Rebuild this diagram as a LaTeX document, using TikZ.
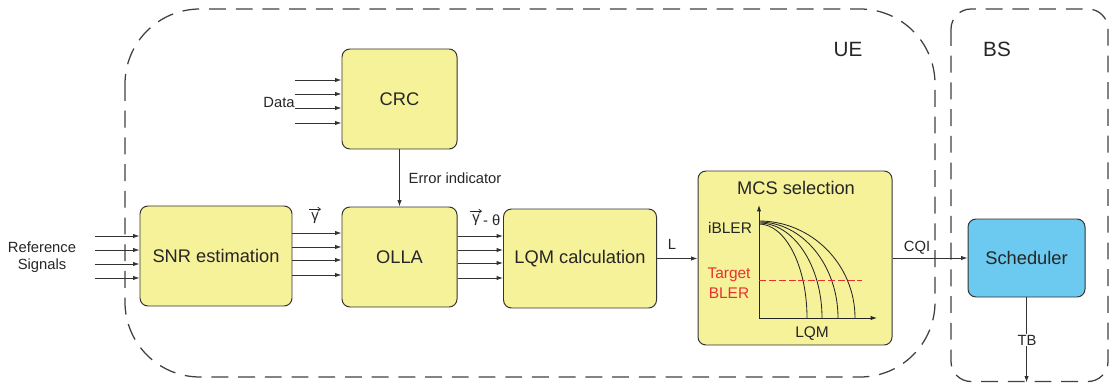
\documentclass[tikz,border=0pt]{standalone}
\usepackage{fontspec}
\setmainfont{Liberation Sans}
\usetikzlibrary{arrows.meta}
\usetikzlibrary{positioning}

\definecolor{boxyellow}{HTML}{F6F29A}
\definecolor{boxblue}{HTML}{6CC9EF}
\definecolor{lineg}{HTML}{333333}
\definecolor{tred}{HTML}{E8312F}

\tikzset{
	blk/.style={draw=lineg, fill=boxyellow, rounded corners=2mm, line width=0.7pt,
		font=\fontsize{13}{15}\selectfont, text=black!85, align=center, inner sep=0pt},
	sig/.style={draw=lineg, line width=0.6pt, -{Latex[length=4.5pt,width=3pt]}},
	vecarr/.style={draw=black!85, line width=0.5pt, -{Straight Barb[length=2pt,width=3pt]}},
	lbl/.style={font=\fontsize{10.5}{12}\selectfont, text=black!85, inner sep=1pt, align=center},
	plbl/.style={font=\fontsize{11}{14}\selectfont, text=black!85, inner sep=0pt, align=center},
	region/.style={draw=black!75, line width=0.9pt, dash pattern=on 12pt off 7pt},
	curve/.style={draw=black!85, line width=0.6pt},
}

\begin{document}
\begin{tikzpicture}[x=0.25mm, y=-0.25mm]
	\useasboundingbox (0,0) rectangle (1112,383);
	% dashed regions
	\draw[region, rounded corners=18.75mm] (125,9) rectangle (935,377);
	\draw[region, rounded corners=5mm] (951,9) rectangle (1108,381.5);
	\node[font=\fontsize{14.7}{16}\selectfont, text=black!85] (ue) at (848,49) {UE};
	\node[font=\fontsize{14.7}{16}\selectfont, text=black!85] (bs) at (997,49) {BS};

	% blocks
	\node[blk, minimum width=28.75mm, minimum height=25mm] (crc) at (399.5,99) {CRC};
	\node[blk, minimum width=38mm, minimum height=25mm] (snr) at (216,256) {SNR estimation};
	\node[blk, minimum width=28.75mm, minimum height=25mm] (olla) at (399.5,257) {OLLA};
	\node[blk, minimum width=38.25mm, minimum height=24.75mm] (lqm) at (580,258.5) {LQM calculation};
	\node[blk, minimum width=48.5mm, minimum height=43.5mm] (mcs) at (795,258) {};
	\node[blk, fill=boxblue, minimum width=29.25mm, minimum height=19.5mm] (sched) at (1026.5,258) {Scheduler};
	\node[font=\fontsize{13}{15}\selectfont, text=black!85, anchor=north] (mcst) at (796,176) {MCS selection};

	% inputs
	\coordinate (refin) at (95,0);
	\coordinate (datain) at (295,0);
	\foreach \y in {236,250,264,278}
		\draw[sig] (refin |- 0,\y) -- (snr.west |- 0,\y);
	\node[lbl] (refs) at (42,257) {Reference\\Signals};
	\foreach \y in {80,94,108,123}
		\draw[sig] (datain |- 0,\y) -- (crc.west |- 0,\y);
	\node[lbl] (data) at (279,102) {Data};

	% connections
	\foreach \y in {233,247,260,275}
		\draw[sig] (snr.east |- 0,\y) -- (olla.west |- 0,\y);
	\node[lbl] (gam) at (315,218) {γ};
	\draw[vecarr] ([xshift=-0.5pt,yshift=1.2pt]gam.north west) -- ([xshift=0.5pt,yshift=1.2pt]gam.north east);
	\foreach \y in {236,250,263,278}
		\draw[sig] (olla.east |- 0,\y) -- (lqm.west |- 0,\y);
	\node[lbl] (gamth) at (476,220) {γ};
	\draw[vecarr] ([xshift=-0.5pt,yshift=1.2pt]gamth.north west) -- ([xshift=0.5pt,yshift=1.2pt]gamth.north east);
	\node[lbl, anchor=west] (th) at (gamth.east) {- θ};
	\draw[sig] (crc) -- (olla);
	\node[lbl, anchor=west] (err) at (407,178) {Error indicator};
	\draw[sig] (lqm.east) -- (lqm.east -| mcs.west);
	\node[lbl] (l) at (672,244) {L};
	\draw[sig] (mcs.east) -- (sched.west);
	\node[lbl] (cqi) at (917,248) {CQI};
	\coordinate (tbend) at (1027,382.5);
	\draw[sig] (sched.south) -- (sched.south |- tbend);
	\node[lbl, fill=white] (tb) at (1027,340) {TB};

	% iBLER curves
	\coordinate (org) at (759,318);
	\draw[curve, -{Latex[length=4.5pt,width=3pt]}] (org) -- (759,205);
	\draw[curve, -{Latex[length=4.5pt,width=3pt]}] (org) -- (877,318);
	\foreach \xe/\ys in {807/224, 822/223, 838/222, 855/221}
		\draw[curve] (759,\ys) .. controls ({759+0.55*(\xe-759)},\ys) and (\xe,{318-0.55*(318-\ys)}) .. (\xe,318);
	\draw[tred, line width=0.6pt, dash pattern=on 5pt off 2pt] (759,280) -- (862,280);
	\node[plbl] (ibler) at (730,228) {iBLER};
	\node[plbl, text=tred] (tbler) at (729,283) {Target\\BLER};
	\node[plbl] (lqmx) at (812,334) {LQM};
\end{tikzpicture}
\end{document}
